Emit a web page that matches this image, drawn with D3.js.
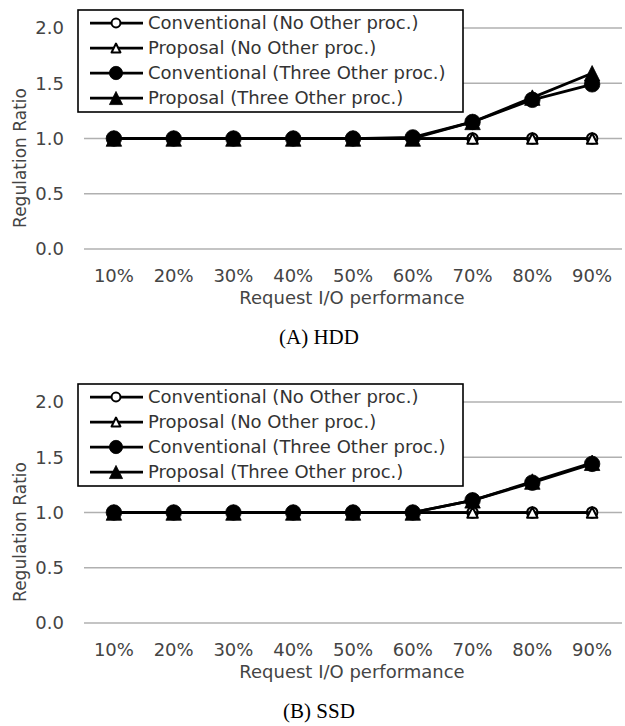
<!DOCTYPE html>
<html>
<head>
<meta charset="utf-8">
<script src="https://cdn.jsdelivr.net/npm/d3@7"></script>
<style>
  html, body { margin: 0; padding: 0; background: #fff; }
  svg { display: block; }
</style>
</head>
<body>
<svg id="chart" width="625" height="726"></svg>
<script>
// Request I/O performance levels (x categories)
const categories = ["10%", "20%", "30%", "40%", "50%", "60%", "70%", "80%", "90%"];
const yTicks = [0, 0.5, 1.0, 1.5, 2.0];

const seriesNames = [
  "Conventional (No Other proc.)",
  "Proposal (No Other proc.)",
  "Conventional (Three Other proc.)",
  "Proposal (Three Other proc.)"
];
const seriesMarkers = ["circle-open", "triangle-open", "circle", "triangle"];

// (A) HDD
const hddConvNone  = [1.00, 1.00, 1.00, 1.00, 1.00, 1.00, 1.00, 1.00, 1.00];
const hddPropNone  = [1.00, 1.00, 1.00, 1.00, 1.00, 1.00, 1.00, 1.00, 1.00];
const hddConvThree = [1.00, 1.00, 1.00, 1.00, 1.00, 1.01, 1.15, 1.35, 1.49];
const hddPropThree = [1.00, 1.00, 1.00, 1.00, 1.00, 1.00, 1.15, 1.37, 1.59];

// (B) SSD
const ssdConvNone  = [1.00, 1.00, 1.00, 1.00, 1.00, 1.00, 1.00, 1.00, 1.00];
const ssdPropNone  = [1.00, 1.00, 1.00, 1.00, 1.00, 1.00, 1.00, 1.00, 1.00];
const ssdConvThree = [1.00, 1.00, 1.00, 1.00, 1.00, 1.00, 1.11, 1.27, 1.44];
const ssdPropThree = [1.00, 1.00, 1.00, 1.00, 1.00, 1.00, 1.11, 1.28, 1.45];

const SANS = "'DejaVu Sans', Verdana, sans-serif";
const SERIF = "'Liberation Serif', 'Times New Roman', serif";
const FS = 18;
const TEXT = "#444";

const svg = d3.select("#chart");

// Marker glyphs: circles and base-down triangles inscribed in a square box
function drawMarker(sel, type, cx, cy, scale = 1) {
  const filled = !type.endsWith("-open");
  const isCircle = type.startsWith("circle");
  const box = (filled ? 15.5 : 10.5) * scale;
  let d;
  if (isCircle) {
    d = d3.symbol().type(d3.symbolCircle).size(Math.PI * (box / 2) ** 2)();
  } else {
    const h = box / 2;
    const p = d3.path();
    p.moveTo(0, -h); p.lineTo(h, h); p.lineTo(-h, h); p.closePath();
    d = p.toString();
  }
  sel.append("path")
    .attr("d", d)
    .attr("transform", `translate(${cx},${cy})`)
    .attr("fill", filled ? "#000" : "#fff")
    .attr("stroke", "#000")
    .attr("stroke-width", filled ? 0.8 : 2)
    .attr("stroke-linejoin", "round");
}

function drawPanel(offsetY, seriesValues, caption) {
  const g = svg.append("g").attr("transform", `translate(0,${offsetY})`);

  const x = d3.scaleBand().domain(categories).range([84, 622]);
  const y = d3.scaleLinear().domain([0, 2]).range([249, 28]);
  const cx = c => x(c) + x.bandwidth() / 2;

  // horizontal gridlines
  g.append("g").selectAll("line").data(yTicks).join("line")
    .attr("x1", 84).attr("x2", 622)
    .attr("y1", d => y(d)).attr("y2", d => y(d))
    .attr("stroke", "#b0b0b0").attr("stroke-width", 1.6);

  // y tick labels
  g.append("g").selectAll("text").data(yTicks).join("text")
    .attr("x", 64).attr("y", d => y(d))
    .attr("dy", "0.35em")
    .attr("text-anchor", "end")
    .attr("font-family", SANS).attr("font-size", FS)
    .attr("fill", TEXT)
    .text(d => d.toFixed(1));

  // x tick labels
  g.append("g").selectAll("text").data(categories).join("text")
    .attr("x", d => cx(d)).attr("y", 276)
    .attr("dy", "0.35em")
    .attr("text-anchor", "middle")
    .attr("font-family", SANS).attr("font-size", FS)
    .attr("fill", TEXT)
    .text(d => d);

  // axis titles
  g.append("text")
    .attr("x", 352).attr("y", 298).attr("dy", "0.35em")
    .attr("text-anchor", "middle")
    .attr("font-family", SANS).attr("font-size", FS).attr("fill", TEXT)
    .text("Request I/O performance");

  g.append("text")
    .attr("transform", "translate(20,158) rotate(-90)")
    .attr("dy", "0.35em")
    .attr("text-anchor", "middle")
    .attr("font-family", SANS).attr("font-size", 17).attr("fill", TEXT)
    .text("Regulation Ratio");

  // caption
  g.append("text")
    .attr("x", 319).attr("y", 337).attr("dy", "0.35em")
    .attr("text-anchor", "middle")
    .attr("font-family", SERIF).attr("font-size", 21).attr("fill", "#000")
    .text(caption);

  // lines + markers
  const line = d3.line()
    .x((d, i) => cx(categories[i]))
    .y(d => y(d));

  seriesValues.forEach((vals, si) => {
    const sg = g.append("g");
    sg.append("path")
      .attr("d", line(vals))
      .attr("fill", "none").attr("stroke", "#000").attr("stroke-width", 2.75)
      .attr("stroke-linejoin", "round");
    vals.forEach((v, i) => {
      drawMarker(sg, seriesMarkers[si], cx(categories[i]), y(v));
    });
  });

  // legend
  const lg = g.append("g");
  lg.append("rect")
    .attr("x", 78).attr("y", 10).attr("width", 385).attr("height", 102)
    .attr("fill", "#fff").attr("stroke", "#000").attr("stroke-width", 1.6);
  seriesNames.forEach((name, i) => {
    const ry = 23 + i * 25;
    lg.append("line")
      .attr("x1", 90).attr("x2", 143).attr("y1", ry).attr("y2", ry)
      .attr("stroke", "#000").attr("stroke-width", 2.75);
    drawMarker(lg, seriesMarkers[i], 116, ry, 0.85);
    lg.append("text")
      .attr("x", 148).attr("y", ry).attr("dy", "0.35em")
      .attr("font-family", SANS).attr("font-size", FS).attr("fill", "#333")
      .text(name);
  });
}

drawPanel(0, [hddConvNone, hddPropNone, hddConvThree, hddPropThree], "(A) HDD");
drawPanel(374, [ssdConvNone, ssdPropNone, ssdConvThree, ssdPropThree], "(B) SSD");
</script>
</body>
</html>
